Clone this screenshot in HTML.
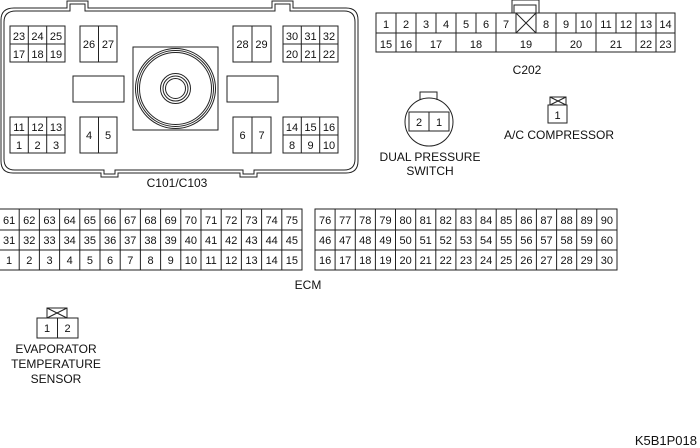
<!DOCTYPE html>
<html><head><meta charset="utf-8"><style>
html,body{margin:0;padding:0;background:#fff;width:700px;height:448px;overflow:hidden}
svg{display:block}
text{font-family:"Liberation Sans",sans-serif;font-size:11px;fill:#111;text-anchor:middle}
text.l{font-size:12px}
</style></head><body>
<svg width="700" height="448" viewBox="0 0 700 448" xmlns="http://www.w3.org/2000/svg" fill="none" stroke="#222" stroke-width="1">
<path d="M14 8 H67 V1 H88 V8 H272 V1 H293 V8 H346 Q358 8 358 20 V161 Q358 173 346 173 H257 V177 H240 V173 H118 V177 H101 V173 H13 Q1 173 1 161 V20 Q1 8 14 8 Z"/>
<path d="M16 11 H70 V4 H85 V11 H275 V4 H290 V11 H344 Q355 11 355 22 V159 Q355 170 344 170 H254 V174 H243 V170 H115 V174 H104 V170 H15 Q4 170 4 159 V22 Q4 11 16 11 Z"/>
<rect x="10" y="26" width="55" height="36"/><path d="M10 44H65M28.3 26V62M46.7 26V62"/>
<rect x="80" y="26" width="37" height="36"/><path d="M98.5 26V62"/>
<rect x="233" y="26" width="38" height="36"/><path d="M252 26V62"/>
<rect x="283" y="26" width="55" height="36"/><path d="M283 44H338M301.3 26V62M319.7 26V62"/>
<rect x="73" y="76" width="51" height="26"/>
<rect x="227" y="76" width="51" height="26"/>
<rect x="133" y="47" width="85" height="83"/>
<circle cx="175.5" cy="88.5" r="40"/><circle cx="175.5" cy="88.5" r="38"/><circle cx="175.5" cy="88.5" r="36"/>
<circle cx="175.5" cy="88.5" r="15"/><circle cx="175.5" cy="88.5" r="12.5"/><circle cx="175.5" cy="88.5" r="10"/>
<rect x="10" y="117" width="55" height="36"/><path d="M10 135H65M28.3 117V153M46.7 117V153"/>
<rect x="80" y="117" width="37" height="36"/><path d="M98.5 117V153"/>
<rect x="233" y="117" width="38" height="36"/><path d="M252 117V153"/>
<rect x="283" y="117" width="55" height="36"/><path d="M283 135H338M301.3 117V153M319.7 117V153"/>
<g stroke="none">
<text x="19" y="40">23</text><text x="37.5" y="40">24</text><text x="56" y="40">25</text>
<text x="19" y="58">17</text><text x="37.5" y="58">18</text><text x="56" y="58">19</text>
<text x="89" y="48">26</text><text x="108" y="48">27</text>
<text x="242.5" y="48">28</text><text x="261.5" y="48">29</text>
<text x="292" y="40">30</text><text x="310.5" y="40">31</text><text x="329" y="40">32</text>
<text x="292" y="58">20</text><text x="310.5" y="58">21</text><text x="329" y="58">22</text>
<text x="19" y="131">11</text><text x="37.5" y="131">12</text><text x="56" y="131">13</text>
<text x="19" y="149">1</text><text x="37.5" y="149">2</text><text x="56" y="149">3</text>
<text x="89" y="139">4</text><text x="108" y="139">5</text>
<text x="242.5" y="139">6</text><text x="261.5" y="139">7</text>
<text x="292" y="131">14</text><text x="310.5" y="131">15</text><text x="329" y="131">16</text>
<text x="292" y="149">8</text><text x="310.5" y="149">9</text><text x="329" y="149">10</text>
<text class="l" x="177" y="187">C101/C103</text>
</g>
<path d="M512 13V0H539V13M514 13V5H536V13"/>
<rect x="376" y="13" width="299" height="39"/>
<path d="M376 33H675M396 13V52M416 13V52M436 13V33M456 13V52M476 13V33M496 13V52M516 13V33M536 13V33M556 13V52M576 13V33M596 13V52M616 13V33M636 13V52M656 13V52M516 13L536 33M536 13L516 33"/>
<g stroke="none">
<text x="386" y="28">1</text><text x="406" y="28">2</text><text x="426" y="28">3</text><text x="446" y="28">4</text><text x="466" y="28">5</text><text x="486" y="28">6</text><text x="506" y="28">7</text><text x="546" y="28">8</text><text x="566" y="28">9</text><text x="586" y="28">10</text><text x="606" y="28">11</text><text x="626" y="28">12</text><text x="646" y="28">13</text><text x="665.5" y="28">14</text>
<text x="386" y="48">15</text><text x="406" y="48">16</text><text x="436" y="48">17</text><text x="476" y="48">18</text><text x="526" y="48">19</text><text x="576" y="48">20</text><text x="616" y="48">21</text><text x="646" y="48">22</text><text x="665.5" y="48">23</text>
<text class="l" x="527" y="74">C202</text>
</g>
<path d="M420 100V92H437V100"/>
<circle cx="429" cy="122" r="24"/>
<rect x="409" y="112" width="40" height="19" fill="#fff"/><path d="M429 112V131"/>
<g stroke="none"><text x="419" y="126">2</text><text x="439" y="126">1</text>
<text class="l" x="430" y="161">DUAL PRESSURE</text><text class="l" x="430" y="175">SWITCH</text></g>
<rect x="550" y="97" width="16" height="8"/><path d="M550 97L566 105M566 97L550 105"/>
<rect x="548" y="105" width="19" height="18"/>
<g stroke="none"><text x="557.5" y="119">1</text><text class="l" x="559" y="139">A/C COMPRESSOR</text></g>
<rect x="-1" y="209" width="303" height="61"/>
<path d="M-1 230H302M-1 250H302M19.2 209V270M39.4 209V270M59.6 209V270M79.8 209V270M100 209V270M120.2 209V270M140.4 209V270M160.6 209V270M180.8 209V270M201 209V270M221.2 209V270M241.4 209V270M261.6 209V270M281.8 209V270"/>
<rect x="315" y="209" width="302" height="61"/>
<path d="M315 230H617M315 250H617M335.1 209V270M355.3 209V270M375.4 209V270M395.5 209V270M415.7 209V270M435.8 209V270M455.9 209V270M476 209V270M496.2 209V270M516.3 209V270M536.4 209V270M556.6 209V270M576.7 209V270M596.8 209V270"/>
<g stroke="none">
<text x="9.1" y="224">61</text><text x="29.3" y="224">62</text><text x="49.5" y="224">63</text><text x="69.7" y="224">64</text><text x="89.9" y="224">65</text><text x="110.1" y="224">66</text><text x="130.3" y="224">67</text><text x="150.5" y="224">68</text><text x="170.7" y="224">69</text><text x="190.9" y="224">70</text><text x="211.1" y="224">71</text><text x="231.3" y="224">72</text><text x="251.5" y="224">73</text><text x="271.7" y="224">74</text><text x="291.9" y="224">75</text>
<text x="9.1" y="244">31</text><text x="29.3" y="244">32</text><text x="49.5" y="244">33</text><text x="69.7" y="244">34</text><text x="89.9" y="244">35</text><text x="110.1" y="244">36</text><text x="130.3" y="244">37</text><text x="150.5" y="244">38</text><text x="170.7" y="244">39</text><text x="190.9" y="244">40</text><text x="211.1" y="244">41</text><text x="231.3" y="244">42</text><text x="251.5" y="244">43</text><text x="271.7" y="244">44</text><text x="291.9" y="244">45</text>
<text x="9.1" y="264">1</text><text x="29.3" y="264">2</text><text x="49.5" y="264">3</text><text x="69.7" y="264">4</text><text x="89.9" y="264">5</text><text x="110.1" y="264">6</text><text x="130.3" y="264">7</text><text x="150.5" y="264">8</text><text x="170.7" y="264">9</text><text x="190.9" y="264">10</text><text x="211.1" y="264">11</text><text x="231.3" y="264">12</text><text x="251.5" y="264">13</text><text x="271.7" y="264">14</text><text x="291.9" y="264">15</text>
<text x="325.1" y="224">76</text><text x="345.2" y="224">77</text><text x="365.3" y="224">78</text><text x="385.5" y="224">79</text><text x="405.6" y="224">80</text><text x="425.7" y="224">81</text><text x="445.8" y="224">82</text><text x="466" y="224">83</text><text x="486.1" y="224">84</text><text x="506.2" y="224">85</text><text x="526.4" y="224">86</text><text x="546.5" y="224">87</text><text x="566.6" y="224">88</text><text x="586.7" y="224">89</text><text x="606.9" y="224">90</text>
<text x="325.1" y="244">46</text><text x="345.2" y="244">47</text><text x="365.3" y="244">48</text><text x="385.5" y="244">49</text><text x="405.6" y="244">50</text><text x="425.7" y="244">51</text><text x="445.8" y="244">52</text><text x="466" y="244">53</text><text x="486.1" y="244">54</text><text x="506.2" y="244">55</text><text x="526.4" y="244">56</text><text x="546.5" y="244">57</text><text x="566.6" y="244">58</text><text x="586.7" y="244">59</text><text x="606.9" y="244">60</text>
<text x="325.1" y="264">16</text><text x="345.2" y="264">17</text><text x="365.3" y="264">18</text><text x="385.5" y="264">19</text><text x="405.6" y="264">20</text><text x="425.7" y="264">21</text><text x="445.8" y="264">22</text><text x="466" y="264">23</text><text x="486.1" y="264">24</text><text x="506.2" y="264">25</text><text x="526.4" y="264">26</text><text x="546.5" y="264">27</text><text x="566.6" y="264">28</text><text x="586.7" y="264">29</text><text x="606.9" y="264">30</text>
<text class="l" x="308" y="289">ECM</text>
</g>
<rect x="47" y="308" width="20" height="10"/><path d="M47 308L67 318M67 308L47 318"/>
<rect x="37" y="318" width="41" height="20"/><path d="M57.5 318V338"/>
<g stroke="none"><text x="47" y="332">1</text><text x="67.5" y="332">2</text>
<text class="l" x="56" y="353">EVAPORATOR</text><text class="l" x="56" y="368">TEMPERATURE</text><text class="l" x="56" y="383">SENSOR</text>
<text x="697" y="445" style="font-size:13px;text-anchor:end">K5B1P018</text></g>
</svg>
</body></html>
